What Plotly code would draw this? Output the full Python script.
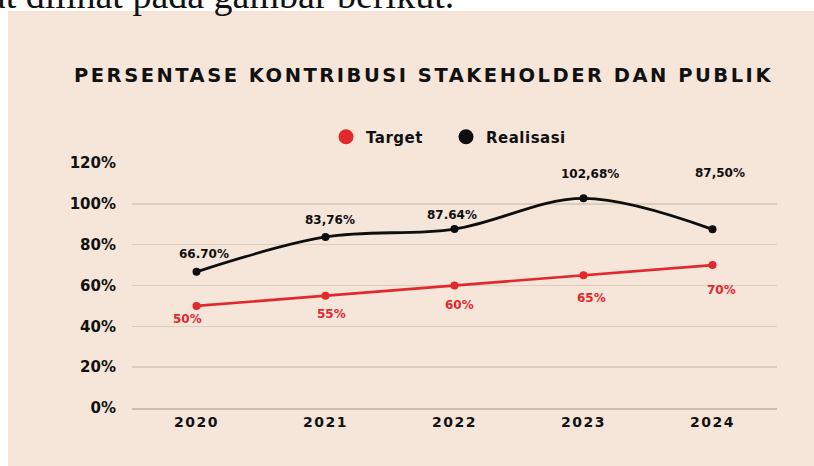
import plotly.graph_objects as go

# ---- data ----
years = ["2020", "2021", "2022", "2023", "2024"]
target = [50, 55, 60, 65, 70]
realisasi = [66.70, 83.76, 87.64, 102.68, 87.50]
target_labels = ["50%", "55%", "60%", "65%", "70%"]
realisasi_labels = ["66.70%", "83,76%", "87.64%", "102,68%", "87,50%"]
y_tick_vals = [0, 20, 40, 60, 80, 100, 120]
y_tick_labels = ["0%", "20%", "40%", "60%", "80%", "100%", "120%"]
title_text = "PERSENTASE KONTRIBUSI STAKEHOLDER DAN PUBLIK"
caption_text = "dapat dilihat pada gambar berikut."

# ---- style ----
RED = "#E0282D"
BLACK = "#0E0E0E"
BEIGE = "#F6E6D9"
GRID = "#DDCDBF"
FONT = "DejaVu Sans"

# label offsets in pixels (xshift, yshift)
real_shift = [(7, 18), (4, 16.5), (-3, 14), (6, 24.5), (7, 56)]
targ_shift = [(-9, -13.5), (6, -18), (5, -19), (8, -22.5), (9, -25)]

W, H = 814, 466
L, R, T, B = 132, W - 777, 163, H - 408
pw, ph = W - L - R, H - T - B


def px_x(p):
    return (p - L) / pw


def px_y(p):
    return (H - B - p) / ph


def sp(text, ls):
    return f'<span style="letter-spacing:{ls}px">{text}</span>'


fig = go.Figure()

fig.add_trace(go.Scatter(
    x=years, y=target, mode="lines+markers",
    line=dict(color=RED, width=2.6),
    marker=dict(color=RED, size=8),
    showlegend=False, hoverinfo="skip",
))
fig.add_trace(go.Scatter(
    x=years, y=realisasi, mode="lines+markers",
    line=dict(color=BLACK, width=2.8, shape="spline", smoothing=1.0),
    marker=dict(color=BLACK, size=8),
    showlegend=False, hoverinfo="skip",
))
# legend entries
fig.add_trace(go.Scatter(x=[None], y=[None], mode="markers",
                         marker=dict(color=RED, size=15),
                         name=sp("Target", 0.5)))
fig.add_trace(go.Scatter(x=[None], y=[None], mode="markers",
                         marker=dict(color=BLACK, size=15),
                         name=sp("Realisasi", 0.5)))

annotations = []
for i, (v, lab, (dx, dy)) in enumerate(zip(realisasi, realisasi_labels, real_shift)):
    annotations.append(dict(
        x=i, y=v, xref="x", yref="y", text=lab, showarrow=False,
        xshift=dx, yshift=dy, xanchor="center", yanchor="middle",
        font=dict(family=FONT, size=12, color=BLACK, weight="bold"),
    ))
for i, (v, lab, (dx, dy)) in enumerate(zip(target, target_labels, targ_shift)):
    annotations.append(dict(
        x=i, y=v, xref="x", yref="y", text=lab, showarrow=False,
        xshift=dx, yshift=dy, xanchor="center", yanchor="middle",
        font=dict(family=FONT, size=12, color=RED, weight="bold"),
    ))
# title
annotations.append(dict(
    x=px_x(423.5), y=px_y(76), xref="paper", yref="paper",
    text=sp(title_text, 2.5), showarrow=False,
    xanchor="center", yanchor="middle",
    font=dict(family=FONT, size=19.5, color="#111111", weight="bold"),
))
# cropped caption text above the panel
annotations.append(dict(
    x=px_x(456), y=px_y(18), xref="paper", yref="paper",
    text=caption_text, showarrow=False,
    xanchor="right", yanchor="bottom",
    font=dict(family="Liberation Serif", size=38, color="#111111"),
))

fig.update_layout(
    width=W, height=H,
    margin=dict(l=L, r=R, t=T, b=B),
    paper_bgcolor="white",
    plot_bgcolor=BEIGE,
    shapes=[dict(type="rect", xref="paper", yref="paper",
                 x0=px_x(8), x1=px_x(830), y0=px_y(480), y1=px_y(11),
                 fillcolor=BEIGE, line=dict(width=0), layer="below")],
    annotations=annotations,
    legend=dict(orientation="h", x=px_x(326), y=px_y(137),
                xanchor="left", yanchor="middle",
                bgcolor="rgba(0,0,0,0)",
                font=dict(family=FONT, size=15, color="#111111", weight="bold"),
                itemwidth=30, tracegroupgap=0,
                entrywidth=75, entrywidthmode="pixels"),
    xaxis=dict(type="category", range=[-0.5, 4.5],
               tickvals=years, ticktext=[sp(y, 1.5) for y in years],
               showgrid=False, zeroline=False,
               showline=True, linecolor="#CDBDAF", linewidth=2,
               ticks="", ticklen=0,
               tickfont=dict(family=FONT, size=14, color="#111111", weight="bold")),
    yaxis=dict(range=[0, 120], tickvals=y_tick_vals, ticktext=y_tick_labels,
               showgrid=True, gridcolor=GRID, gridwidth=1.5,
               zeroline=False, showline=False,
               ticks="outside", ticklen=12, tickcolor="rgba(0,0,0,0)",
               tickfont=dict(family=FONT, size=15, color="#111111", weight="bold")),
)

fig.write_html(
    "out.html",
    config={"displayModeBar": False, "staticPlot": True},
    post_script="document.body.style.margin='0';document.body.style.overflow='hidden';",
)
